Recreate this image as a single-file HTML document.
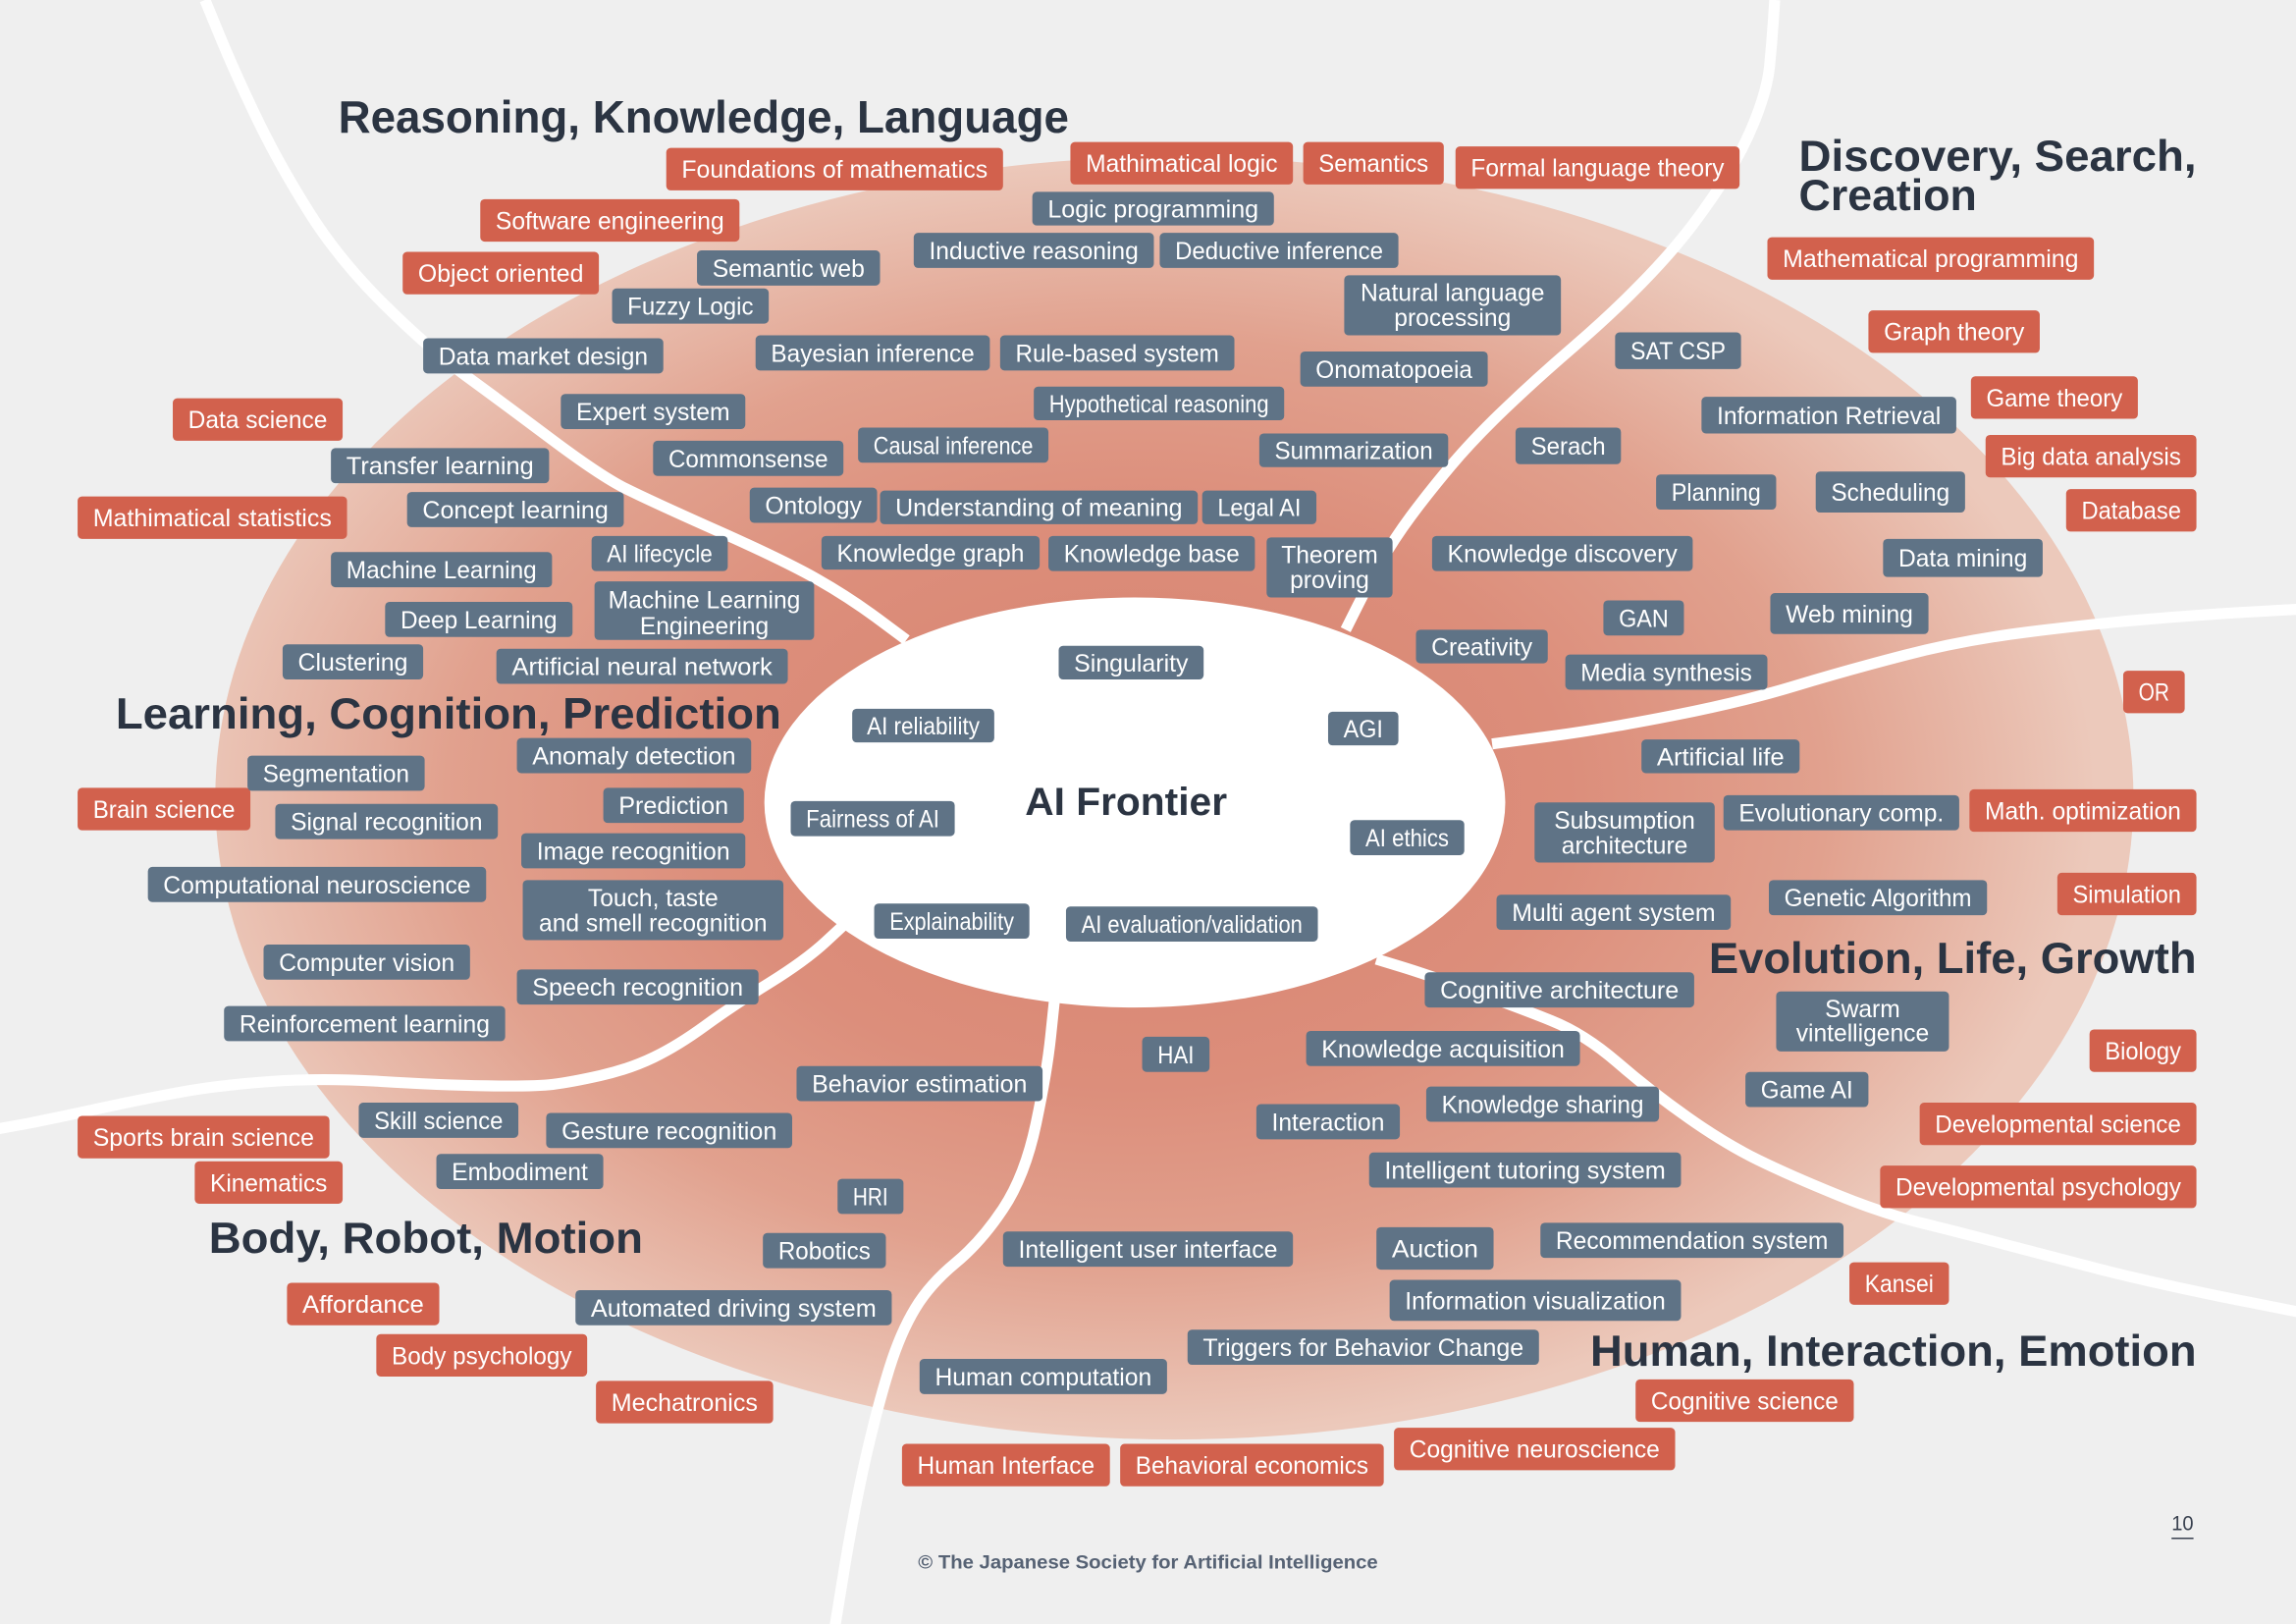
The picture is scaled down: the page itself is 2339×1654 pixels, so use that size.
<!DOCTYPE html>
<html><head><meta charset="utf-8"><style>
html,body{margin:0;padding:0;background:#efefef;overflow:hidden}
svg{display:block}
text{font-family:"Liberation Sans",Arial,sans-serif}
.r{fill:#d2614d}
.g{fill:#5f7386}
.t{fill:#fff;font-size:16.5px;text-anchor:middle}
.h{fill:#2b3442;font-size:30px;font-weight:bold}
.ln{fill:none;stroke:#fff;stroke-width:7.5;stroke-linejoin:round;stroke-linecap:butt}
</style></head><body>
<svg width="2339" height="1654" viewBox="0 0 1568 1109" preserveAspectRatio="none" xmlns="http://www.w3.org/2000/svg">
<defs>
<radialGradient id="eg" cx="0.48" cy="0.5" r="0.5">
<stop offset="0" stop-color="#d7826e"/>
<stop offset="0.45" stop-color="#dc8e7b"/>
<stop offset="0.72" stop-color="#e1a18e"/>
<stop offset="1" stop-color="#ecc9bb"/>
</radialGradient>
</defs>
<rect width="1568" height="1109" fill="#efefef"/>
<ellipse cx="802" cy="545" rx="655" ry="438" fill="url(#eg)"/>

<path class="ln" d="M140,0 L150.5,25.5 Q161,51 176,82 Q191,113 211.5,145.5 Q232,178 263,208.5 Q294,239 318,256.5 Q342,274 376,299.5 Q410,325 427,333.5 Q444,342 490,362.5 Q536,383 558,395.5 Q580,408 599.5,422.5 L619,437"/>
<path class="ln" d="M1212,0 L1211,15 Q1210,30 1208.5,45 Q1207,60 1199.5,79.5 Q1192,99 1181,117 Q1170,135 1156,153.5 Q1142,172 1121,193.5 Q1100,215 1075,236.5 Q1050,258 1028,279 Q1006,300 990.5,318.5 Q975,337 963.5,352.5 Q952,368 943.5,383 Q935,398 927,414 L919,430"/>
<path class="ln" d="M1019,508 L1057,503 Q1095,498 1143,488.5 Q1191,479 1225.5,468.5 Q1260,458 1300.5,447.5 Q1341,437 1385.5,431.5 Q1430,426 1465,423 Q1500,420 1534,418 L1570,416"/>
<path class="ln" d="M940,655 L956.5,660 Q973,665 1005,676.5 Q1037,688 1059.5,697 Q1082,706 1104.5,725.5 Q1127,745 1152.5,763 Q1178,781 1200.5,792 Q1223,803 1255,816 Q1287,829 1313.5,835.5 Q1340,842 1370,850 Q1400,858 1433,866.5 Q1466,875 1517,885.5 L1570,896"/>
<path class="ln" d="M578,630 L564,643 Q550,656 525,671.5 Q500,687 481.5,700.5 Q463,714 446.5,722 Q430,730 410,734.5 Q390,739 377.5,740.5 Q365,742 332.5,741.5 Q300,741 260,738.5 Q220,736 185,738.5 Q150,741 125,745.5 Q100,750 70,756.5 Q40,763 20,767 L-2,771"/>
<path class="ln" d="M720,684 L717.5,708 Q715,732 707.5,767.5 Q700,803 685,825.5 Q670,848 652.5,862.5 Q635,877 625,893.5 Q615,910 607.5,934 Q600,958 592.5,990 Q585,1022 577.5,1066 L570,1112"/>

<ellipse cx="775" cy="548" rx="253" ry="140" fill="#fff"/>

<!-- Titles -->
<text class="h" x="231" y="90.5" textLength="499" lengthAdjust="spacingAndGlyphs" style="font-size:31px">Reasoning, Knowledge, Language</text>
<text class="h" x="1228.5" y="116.7" textLength="271.5" lengthAdjust="spacingAndGlyphs">Discovery, Search,</text>
<text class="h" x="1228.5" y="143.6" textLength="121.5" lengthAdjust="spacingAndGlyphs">Creation</text>
<text class="h" x="79" y="497.5" textLength="454.5" lengthAdjust="spacingAndGlyphs">Learning, Cognition, Prediction</text>
<text class="h" x="1167" y="664.5" textLength="333" lengthAdjust="spacingAndGlyphs">Evolution, Life, Growth</text>
<text class="h" x="142.6" y="855.6" textLength="296.5" lengthAdjust="spacingAndGlyphs">Body, Robot, Motion</text>
<text class="h" x="1086" y="932.6" textLength="414" lengthAdjust="spacingAndGlyphs">Human, Interaction, Emotion</text>
<text class="h" x="700" y="556.5" textLength="138" lengthAdjust="spacingAndGlyphs" style="font-size:27px">AI Frontier</text>

<!-- Red boxes -->
<rect class="r" x="455" y="101" width="230" height="29" rx="3"/><text class="t" x="570" y="121.5" textLength="209" lengthAdjust="spacingAndGlyphs">Foundations of mathematics</text>
<rect class="r" x="731" y="97" width="152" height="29" rx="3"/><text class="t" x="807" y="117.5" textLength="131" lengthAdjust="spacingAndGlyphs">Mathimatical logic</text>
<rect class="r" x="890" y="97" width="96" height="29" rx="3"/><text class="t" x="938" y="117.5" textLength="75" lengthAdjust="spacingAndGlyphs">Semantics</text>
<rect class="r" x="994" y="100" width="194" height="29" rx="3"/><text class="t" x="1091" y="120.5" textLength="173" lengthAdjust="spacingAndGlyphs">Formal language theory</text>
<rect class="r" x="328" y="136" width="177" height="29" rx="3"/><text class="t" x="416.5" y="156.5" textLength="156" lengthAdjust="spacingAndGlyphs">Software engineering</text>
<rect class="r" x="275" y="172" width="134" height="29" rx="3"/><text class="t" x="342" y="192.5" textLength="113" lengthAdjust="spacingAndGlyphs">Object oriented</text>
<rect class="r" x="118" y="272" width="116" height="29" rx="3"/><text class="t" x="176" y="292.5" textLength="95" lengthAdjust="spacingAndGlyphs">Data science</text>
<rect class="r" x="53" y="339" width="184" height="29" rx="3"/><text class="t" x="145" y="359.5" textLength="163" lengthAdjust="spacingAndGlyphs">Mathimatical statistics</text>
<rect class="r" x="1207" y="162" width="223" height="29" rx="3"/><text class="t" x="1318.5" y="182.5" textLength="202" lengthAdjust="spacingAndGlyphs">Mathematical programming</text>
<rect class="r" x="1276" y="212" width="117" height="29" rx="3"/><text class="t" x="1334.5" y="232.5" textLength="96" lengthAdjust="spacingAndGlyphs">Graph theory</text>
<rect class="r" x="1346" y="257" width="114" height="29" rx="3"/><text class="t" x="1403" y="277.5" textLength="93" lengthAdjust="spacingAndGlyphs">Game theory</text>
<rect class="r" x="1356" y="297" width="144" height="29" rx="3"/><text class="t" x="1428" y="317.5" textLength="123" lengthAdjust="spacingAndGlyphs">Big data analysis</text>
<rect class="r" x="1411" y="334" width="89" height="29" rx="3"/><text class="t" x="1455.5" y="354.5" textLength="68" lengthAdjust="spacingAndGlyphs">Database</text>
<rect class="r" x="1450" y="458" width="42" height="29" rx="3"/><text class="t" x="1471" y="478.5" textLength="21" lengthAdjust="spacingAndGlyphs">OR</text>
<rect class="r" x="1345" y="539" width="155" height="29" rx="3"/><text class="t" x="1422.5" y="559.5" textLength="134" lengthAdjust="spacingAndGlyphs">Math. optimization</text>
<rect class="r" x="1405" y="596" width="95" height="29" rx="3"/><text class="t" x="1452.5" y="616.5" textLength="74" lengthAdjust="spacingAndGlyphs">Simulation</text>
<rect class="r" x="1427" y="703" width="73" height="29" rx="3"/><text class="t" x="1463.5" y="723.5" textLength="52" lengthAdjust="spacingAndGlyphs">Biology</text>
<rect class="r" x="1311" y="753" width="189" height="29" rx="3"/><text class="t" x="1405.5" y="773.5" textLength="168" lengthAdjust="spacingAndGlyphs">Developmental science</text>
<rect class="r" x="1284" y="796" width="216" height="29" rx="3"/><text class="t" x="1392" y="816.5" textLength="195" lengthAdjust="spacingAndGlyphs">Developmental psychology</text>
<rect class="r" x="1263" y="862" width="68" height="29" rx="3"/><text class="t" x="1297" y="882.5" textLength="47" lengthAdjust="spacingAndGlyphs">Kansei</text>
<rect class="r" x="1117" y="942" width="149" height="29" rx="3"/><text class="t" x="1191.5" y="962.5" textLength="128" lengthAdjust="spacingAndGlyphs">Cognitive science</text>
<rect class="r" x="952" y="975" width="192" height="29" rx="3"/><text class="t" x="1048" y="995.5" textLength="171" lengthAdjust="spacingAndGlyphs">Cognitive neuroscience</text>
<rect class="r" x="765" y="986" width="180" height="29" rx="3"/><text class="t" x="855" y="1006.5" textLength="159" lengthAdjust="spacingAndGlyphs">Behavioral economics</text>
<rect class="r" x="616" y="986" width="142" height="29" rx="3"/><text class="t" x="687" y="1006.5" textLength="121" lengthAdjust="spacingAndGlyphs">Human Interface</text>
<rect class="r" x="407" y="943" width="121" height="29" rx="3"/><text class="t" x="467.5" y="963.5" textLength="100" lengthAdjust="spacingAndGlyphs">Mechatronics</text>
<rect class="r" x="257" y="911" width="144" height="29" rx="3"/><text class="t" x="329" y="931.5" textLength="123" lengthAdjust="spacingAndGlyphs">Body psychology</text>
<rect class="r" x="196" y="876" width="104" height="29" rx="3"/><text class="t" x="248" y="896.5" textLength="83" lengthAdjust="spacingAndGlyphs">Affordance</text>
<rect class="r" x="133" y="793" width="101" height="29" rx="3"/><text class="t" x="183.5" y="813.5" textLength="80" lengthAdjust="spacingAndGlyphs">Kinematics</text>
<rect class="r" x="53" y="762" width="172" height="29" rx="3"/><text class="t" x="139" y="782.5" textLength="151" lengthAdjust="spacingAndGlyphs">Sports brain science</text>
<rect class="r" x="53" y="538" width="118" height="29" rx="3"/><text class="t" x="112" y="558.5" textLength="97" lengthAdjust="spacingAndGlyphs">Brain science</text>

<!-- Gray boxes -->
<rect class="g" x="705" y="131" width="165" height="23" rx="3"/><text class="t" x="787.5" y="148.5" textLength="144" lengthAdjust="spacingAndGlyphs">Logic programming</text>
<rect class="g" x="624" y="159" width="164" height="24" rx="3"/><text class="t" x="706" y="177" textLength="143" lengthAdjust="spacingAndGlyphs">Inductive reasoning</text>
<rect class="g" x="792" y="159" width="163" height="24" rx="3"/><text class="t" x="873.5" y="177" textLength="142" lengthAdjust="spacingAndGlyphs">Deductive inference</text>
<rect class="g" x="476" y="171" width="125" height="24" rx="3"/><text class="t" x="538.5" y="189" textLength="104" lengthAdjust="spacingAndGlyphs">Semantic web</text>
<rect class="g" x="418" y="197" width="107" height="24" rx="3"/><text class="t" x="471.5" y="215" textLength="86" lengthAdjust="spacingAndGlyphs">Fuzzy Logic</text>
<rect class="g" x="918" y="188" width="148" height="41" rx="3"/><text class="t" x="992" y="205.5">Natural language</text><text class="t" x="992" y="222.5">processing</text>
<rect class="g" x="289" y="231" width="164" height="24" rx="3"/><text class="t" x="371" y="249" textLength="143" lengthAdjust="spacingAndGlyphs">Data market design</text>
<rect class="g" x="516" y="229" width="160" height="24" rx="3"/><text class="t" x="596" y="247" textLength="139" lengthAdjust="spacingAndGlyphs">Bayesian inference</text>
<rect class="g" x="683" y="229" width="160" height="24" rx="3"/><text class="t" x="763" y="247" textLength="139" lengthAdjust="spacingAndGlyphs">Rule-based system</text>
<rect class="g" x="888" y="240" width="128" height="24" rx="3"/><text class="t" x="952" y="258" textLength="107" lengthAdjust="spacingAndGlyphs">Onomatopoeia</text>
<rect class="g" x="1103" y="227" width="86" height="25" rx="3"/><text class="t" x="1146" y="245.5" textLength="65" lengthAdjust="spacingAndGlyphs">SAT CSP</text>
<rect class="g" x="706" y="264" width="171" height="23" rx="3"/><text class="t" x="791.5" y="281.5" textLength="150" lengthAdjust="spacingAndGlyphs">Hypothetical reasoning</text>
<rect class="g" x="383" y="269" width="126" height="24" rx="3"/><text class="t" x="446" y="287" textLength="105" lengthAdjust="spacingAndGlyphs">Expert system</text>
<rect class="g" x="1162" y="271" width="174" height="25" rx="3"/><text class="t" x="1249" y="289.5" textLength="153" lengthAdjust="spacingAndGlyphs">Information Retrieval</text>
<rect class="g" x="586" y="292" width="130" height="24" rx="3"/><text class="t" x="651" y="310" textLength="109" lengthAdjust="spacingAndGlyphs">Causal inference</text>
<rect class="g" x="1035" y="292" width="72" height="25" rx="3"/><text class="t" x="1071" y="310.5" textLength="51" lengthAdjust="spacingAndGlyphs">Serach</text>
<rect class="g" x="860" y="296" width="129" height="23" rx="3"/><text class="t" x="924.5" y="313.5" textLength="108" lengthAdjust="spacingAndGlyphs">Summarization</text>
<rect class="g" x="446" y="301" width="130" height="24" rx="3"/><text class="t" x="511" y="319" textLength="109" lengthAdjust="spacingAndGlyphs">Commonsense</text>
<rect class="g" x="226" y="306" width="149" height="24" rx="3"/><text class="t" x="300.5" y="324" textLength="128" lengthAdjust="spacingAndGlyphs">Transfer learning</text>
<rect class="g" x="1240" y="322" width="102" height="28" rx="3"/><text class="t" x="1291" y="342" textLength="81" lengthAdjust="spacingAndGlyphs">Scheduling</text>
<rect class="g" x="1131" y="324" width="82" height="24" rx="3"/><text class="t" x="1172" y="342" textLength="61" lengthAdjust="spacingAndGlyphs">Planning</text>
<rect class="g" x="512" y="333" width="87" height="24" rx="3"/><text class="t" x="555.5" y="351" textLength="66" lengthAdjust="spacingAndGlyphs">Ontology</text>
<rect class="g" x="601" y="335" width="217" height="23" rx="3"/><text class="t" x="709.5" y="352.5" textLength="196" lengthAdjust="spacingAndGlyphs">Understanding of meaning</text>
<rect class="g" x="821" y="335" width="78" height="23" rx="3"/><text class="t" x="860" y="352.5" textLength="57" lengthAdjust="spacingAndGlyphs">Legal AI</text>
<rect class="g" x="278" y="336" width="148" height="24" rx="3"/><text class="t" x="352" y="354" textLength="127" lengthAdjust="spacingAndGlyphs">Concept learning</text>
<rect class="g" x="404" y="366" width="93" height="24" rx="3"/><text class="t" x="450.5" y="384" textLength="72" lengthAdjust="spacingAndGlyphs">AI lifecycle</text>
<rect class="g" x="561" y="366" width="149" height="23" rx="3"/><text class="t" x="635.5" y="383.5" textLength="128" lengthAdjust="spacingAndGlyphs">Knowledge graph</text>
<rect class="g" x="716" y="366" width="141" height="24" rx="3"/><text class="t" x="786.5" y="384" textLength="120" lengthAdjust="spacingAndGlyphs">Knowledge base</text>
<rect class="g" x="865" y="367" width="86" height="41" rx="3"/><text class="t" x="908" y="384.5">Theorem</text><text class="t" x="908" y="401.5">proving</text>
<rect class="g" x="978" y="366" width="178" height="24" rx="3"/><text class="t" x="1067" y="384" textLength="157" lengthAdjust="spacingAndGlyphs">Knowledge discovery</text>
<rect class="g" x="1286" y="368" width="109" height="26" rx="3"/><text class="t" x="1340.5" y="387" textLength="88" lengthAdjust="spacingAndGlyphs">Data mining</text>
<rect class="g" x="226" y="377" width="151" height="24" rx="3"/><text class="t" x="301.5" y="395" textLength="130" lengthAdjust="spacingAndGlyphs">Machine Learning</text>
<rect class="g" x="406" y="397" width="150" height="40" rx="3"/><text class="t" x="481" y="415.5">Machine Learning</text><text class="t" x="481" y="433">Engineering</text>
<rect class="g" x="263" y="411" width="128" height="24" rx="3"/><text class="t" x="327" y="429" textLength="107" lengthAdjust="spacingAndGlyphs">Deep Learning</text>
<rect class="g" x="1095" y="410" width="55" height="24" rx="3"/><text class="t" x="1122.5" y="428" textLength="34" lengthAdjust="spacingAndGlyphs">GAN</text>
<rect class="g" x="1209" y="405" width="108" height="28" rx="3"/><text class="t" x="1263" y="425" textLength="87" lengthAdjust="spacingAndGlyphs">Web mining</text>
<rect class="g" x="967" y="430" width="90" height="23" rx="3"/><text class="t" x="1012" y="447.5" textLength="69" lengthAdjust="spacingAndGlyphs">Creativity</text>
<rect class="g" x="193" y="440" width="96" height="24" rx="3"/><text class="t" x="241" y="458" textLength="75" lengthAdjust="spacingAndGlyphs">Clustering</text>
<rect class="g" x="339" y="443" width="199" height="24" rx="3"/><text class="t" x="438.5" y="461" textLength="178" lengthAdjust="spacingAndGlyphs">Artificial neural network</text>
<rect class="g" x="723" y="441" width="99" height="23" rx="3"/><text class="t" x="772.5" y="458.5" textLength="78" lengthAdjust="spacingAndGlyphs">Singularity</text>
<rect class="g" x="1069" y="447" width="138" height="24" rx="3"/><text class="t" x="1138" y="465" textLength="117" lengthAdjust="spacingAndGlyphs">Media synthesis</text>
<rect class="g" x="582" y="484" width="97" height="23" rx="3"/><text class="t" x="630.5" y="501.5" textLength="77" lengthAdjust="spacingAndGlyphs">AI reliability</text>
<rect class="g" x="907" y="486" width="48" height="23" rx="3"/><text class="t" x="931" y="503.5" textLength="27" lengthAdjust="spacingAndGlyphs">AGI</text>
<rect class="g" x="353" y="504" width="160" height="24" rx="3"/><text class="t" x="433" y="522" textLength="139" lengthAdjust="spacingAndGlyphs">Anomaly detection</text>
<rect class="g" x="1121" y="505" width="108" height="23" rx="3"/><text class="t" x="1175" y="522.5" textLength="87" lengthAdjust="spacingAndGlyphs">Artificial life</text>
<rect class="g" x="169" y="516" width="121" height="24" rx="3"/><text class="t" x="229.5" y="534" textLength="100" lengthAdjust="spacingAndGlyphs">Segmentation</text>
<rect class="g" x="412" y="538" width="96" height="24" rx="3"/><text class="t" x="460" y="556" textLength="75" lengthAdjust="spacingAndGlyphs">Prediction</text>
<rect class="g" x="1177" y="543" width="161" height="24" rx="3"/><text class="t" x="1257.5" y="561" textLength="140" lengthAdjust="spacingAndGlyphs">Evolutionary comp.</text>
<rect class="g" x="540" y="547" width="112" height="24" rx="3"/><text class="t" x="596" y="565" textLength="91" lengthAdjust="spacingAndGlyphs">Fairness of AI</text>
<rect class="g" x="1048" y="548" width="123" height="41" rx="3"/><text class="t" x="1109.5" y="566">Subsumption</text><text class="t" x="1109.5" y="583">architecture</text>
<rect class="g" x="188" y="549" width="152" height="24" rx="3"/><text class="t" x="264" y="567" textLength="131" lengthAdjust="spacingAndGlyphs">Signal recognition</text>
<rect class="g" x="922" y="560" width="78" height="24" rx="3"/><text class="t" x="961" y="578" textLength="57" lengthAdjust="spacingAndGlyphs">AI ethics</text>
<rect class="g" x="356" y="569" width="153" height="24" rx="3"/><text class="t" x="432.5" y="587" textLength="132" lengthAdjust="spacingAndGlyphs">Image recognition</text>
<rect class="g" x="101" y="592" width="231" height="24" rx="3"/><text class="t" x="216.5" y="610" textLength="210" lengthAdjust="spacingAndGlyphs">Computational neuroscience</text>
<rect class="g" x="357" y="601" width="178" height="41" rx="3"/><text class="t" x="446" y="619">Touch, taste</text><text class="t" x="446" y="636">and smell recognition</text>
<rect class="g" x="1208" y="601" width="149" height="24" rx="3"/><text class="t" x="1282.5" y="619" textLength="128" lengthAdjust="spacingAndGlyphs">Genetic Algorithm</text>
<rect class="g" x="1022" y="611" width="160" height="24" rx="3"/><text class="t" x="1102" y="629" textLength="139" lengthAdjust="spacingAndGlyphs">Multi agent system</text>
<rect class="g" x="597" y="617" width="106" height="24" rx="3"/><text class="t" x="650" y="635" textLength="85" lengthAdjust="spacingAndGlyphs">Explainability</text>
<rect class="g" x="728" y="619" width="172" height="24" rx="3"/><text class="t" x="814" y="637" textLength="151" lengthAdjust="spacingAndGlyphs">AI evaluation/validation</text>
<rect class="g" x="180" y="645" width="141" height="24" rx="3"/><text class="t" x="250.5" y="663" textLength="120" lengthAdjust="spacingAndGlyphs">Computer vision</text>
<rect class="g" x="353" y="662" width="165" height="24" rx="3"/><text class="t" x="435.5" y="680" textLength="144" lengthAdjust="spacingAndGlyphs">Speech recognition</text>
<rect class="g" x="973" y="664" width="184" height="24" rx="3"/><text class="t" x="1065" y="682" textLength="163" lengthAdjust="spacingAndGlyphs">Cognitive architecture</text>
<rect class="g" x="1213" y="677" width="118" height="41" rx="3"/><text class="t" x="1272" y="694.5">Swarm</text><text class="t" x="1272" y="711">vintelligence</text>
<rect class="g" x="153" y="687" width="192" height="24" rx="3"/><text class="t" x="249" y="705" textLength="171" lengthAdjust="spacingAndGlyphs">Reinforcement learning</text>
<rect class="g" x="780" y="708" width="46" height="24" rx="3"/><text class="t" x="803" y="726" textLength="25" lengthAdjust="spacingAndGlyphs">HAI</text>
<rect class="g" x="892" y="704" width="187" height="24" rx="3"/><text class="t" x="985.5" y="722" textLength="166" lengthAdjust="spacingAndGlyphs">Knowledge acquisition</text>
<rect class="g" x="544" y="728" width="168" height="24" rx="3"/><text class="t" x="628" y="746" textLength="147" lengthAdjust="spacingAndGlyphs">Behavior estimation</text>
<rect class="g" x="1192" y="732" width="84" height="24" rx="3"/><text class="t" x="1234" y="750" textLength="63" lengthAdjust="spacingAndGlyphs">Game AI</text>
<rect class="g" x="974" y="742" width="159" height="24" rx="3"/><text class="t" x="1053.5" y="760" textLength="138" lengthAdjust="spacingAndGlyphs">Knowledge sharing</text>
<rect class="g" x="245" y="753" width="109" height="24" rx="3"/><text class="t" x="299.5" y="771" textLength="88" lengthAdjust="spacingAndGlyphs">Skill science</text>
<rect class="g" x="858" y="754" width="98" height="24" rx="3"/><text class="t" x="907" y="772" textLength="77" lengthAdjust="spacingAndGlyphs">Interaction</text>
<rect class="g" x="373" y="760" width="168" height="24" rx="3"/><text class="t" x="457" y="778" textLength="147" lengthAdjust="spacingAndGlyphs">Gesture recognition</text>
<rect class="g" x="935" y="787" width="213" height="24" rx="3"/><text class="t" x="1041.5" y="805" textLength="192" lengthAdjust="spacingAndGlyphs">Intelligent tutoring system</text>
<rect class="g" x="298" y="788" width="114" height="24" rx="3"/><text class="t" x="355" y="806" textLength="93" lengthAdjust="spacingAndGlyphs">Embodiment</text>
<rect class="g" x="572" y="805" width="45" height="24" rx="3"/><text class="t" x="594.5" y="823" textLength="24" lengthAdjust="spacingAndGlyphs">HRI</text>
<rect class="g" x="940" y="838" width="80" height="29" rx="3"/><text class="t" x="980" y="858.5" textLength="59" lengthAdjust="spacingAndGlyphs">Auction</text>
<rect class="g" x="1052" y="835" width="207" height="24" rx="3"/><text class="t" x="1155.5" y="853" textLength="186" lengthAdjust="spacingAndGlyphs">Recommendation system</text>
<rect class="g" x="685" y="841" width="198" height="24" rx="3"/><text class="t" x="784" y="859" textLength="177" lengthAdjust="spacingAndGlyphs">Intelligent user interface</text>
<rect class="g" x="521" y="842" width="84" height="24" rx="3"/><text class="t" x="563" y="860" textLength="63" lengthAdjust="spacingAndGlyphs">Robotics</text>
<rect class="g" x="949" y="874" width="199" height="28" rx="3"/><text class="t" x="1048.5" y="894" textLength="178" lengthAdjust="spacingAndGlyphs">Information visualization</text>
<rect class="g" x="393" y="881" width="216" height="24" rx="3"/><text class="t" x="501" y="899" textLength="195" lengthAdjust="spacingAndGlyphs">Automated driving system</text>
<rect class="g" x="811" y="908" width="240" height="24" rx="3"/><text class="t" x="931" y="926" textLength="219" lengthAdjust="spacingAndGlyphs">Triggers for Behavior Change</text>
<rect class="g" x="628" y="928" width="169" height="24" rx="3"/><text class="t" x="712.5" y="946" textLength="148" lengthAdjust="spacingAndGlyphs">Human computation</text>

<!-- Footer -->
<text x="627" y="1071" textLength="314" lengthAdjust="spacingAndGlyphs" style="font-size:13px;font-weight:bold;fill:#566274">© The Japanese Society for Artificial Intelligence</text>
<text x="1483" y="1045" textLength="15" lengthAdjust="spacingAndGlyphs" style="font-size:14px;fill:#3a4250">10</text>
<line x1="1483" y1="1050.5" x2="1498" y2="1050.5" stroke="#3a4250" stroke-width="1"/>
</svg>
</body></html>
